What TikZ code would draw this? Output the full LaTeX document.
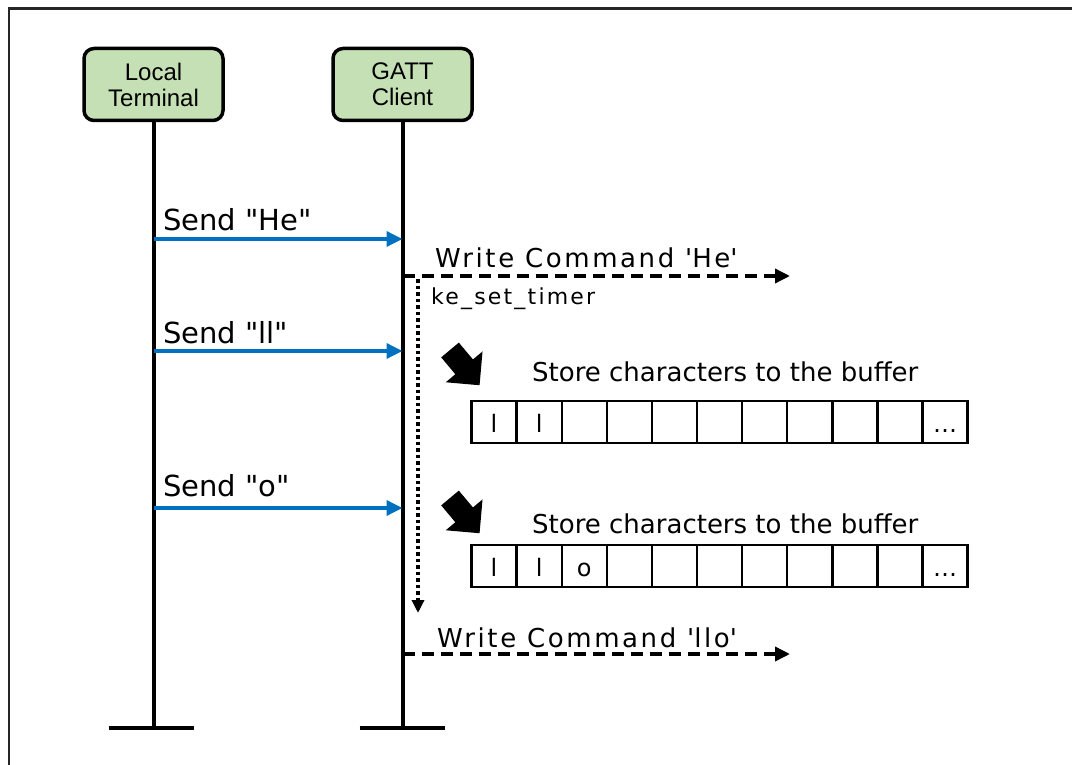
\documentclass[tikz,border=0pt]{standalone}
\usepackage{fontspec}
\usepackage{tikz}
\usetikzlibrary{arrows.meta}
\setmainfont{DejaVu Sans}
\newfontfamily\boxfont{Liberation Sans}
\newfontfamily\cmdfont[LetterSpace=10]{DejaVu Sans}
\definecolor{boxgreen}{RGB}{197,224,180}
\definecolor{msgblue}{RGB}{0,112,192}

\begin{document}
\begin{tikzpicture}[x=1pt, y=-1pt,
  actor/.style = {draw, fill=boxgreen, line width=3.5pt, rounded corners=10pt, minimum width=139pt, minimum height=72pt, align=center, inner sep=0pt, font=\boxfont\fontsize{24}{26}\selectfont},
  life/.style = {line width=4pt},
  msg/.style = {draw=msgblue, line width=3.5pt, -{Triangle[length=16pt,width=15pt]}},
  cmd/.style = {line width=3.5pt, dash pattern=on 12pt off 7pt, -{Triangle[length=15pt,width=14pt]}},
  timer/.style = {line width=3.5pt, dash pattern=on 3.5pt off 3pt, -{Triangle[length=13pt,width=12pt]}},
  cell/.style = {draw, line width=2.4pt, minimum width=45.1pt, minimum height=42pt, inner sep=0pt},
  lbl/.style = {anchor=base west, inner sep=0pt},
  sendfont/.style = {font=\fontsize{29}{33}\selectfont},
  charfont/.style = {anchor=base, inner sep=0pt, font=\fontsize{24}{26}\selectfont}]
\useasboundingbox (0,0) rectangle (1072,765);
\draw[line width=2.2pt, black!85] (9,8.5) rectangle (1100,800);

\node[actor] (lt) at (153.5,84.5) {Local\\Terminal};
\node[actor] (gc) at (402.5,84.5) {GATT\\Client};
\coordinate (lt-end) at (153.5,728);
\coordinate (gc-end) at (402.5,728);
\draw[life] (lt.south) -- (lt-end);
\draw[life] (gc.south) -- (gc-end);
\draw[life] ([xshift=-45pt]lt-end) -- ([xshift=40pt]lt-end);
\draw[life] ([xshift=-43pt]gc-end) -- ([xshift=42pt]gc-end);

\foreach \y [count=\i] in {239,351,508} {
  \coordinate (lt\i) at (153.5,\y);
  \coordinate (gc\i) at (402.5,\y);
  \draw[msg] (lt\i) -- (gc\i);
}
\node[lbl, sendfont] (send1) at (163,230) {Send \textquotedbl He\textquotedbl};
\node[lbl, sendfont] (send2) at (163,343) {Send \textquotedbl ll\textquotedbl};
\node[lbl, sendfont] (send3) at (163,496) {Send \textquotedbl o\textquotedbl};

\coordinate (gcw1) at (402.5,276);
\coordinate (w1) at (790,276);
\draw[cmd] (gcw1) -- (w1);
\node[lbl, font=\cmdfont\fontsize{26}{28}\selectfont] (cmd1) at (435,267) {Write Command \textquotesingle He\textquotesingle};
\coordinate (t0) at (418,279);
\coordinate (t1) at (418,613);
\draw[timer] (t0) -- (t1);
\node[lbl, font=\cmdfont\fontsize{22}{26}\selectfont] (tmr) at (431,304) {ke\_set\_timer};

\foreach \y in {350,498}
  \fill[shift={(450,\y)}, rotate=-50] (0,-11.5) -- (22,-11.5) -- (22,-24) -- (46,0) -- (22,24) -- (22,11.5) -- (0,11.5) -- cycle;
\node[lbl, font=\fontsize{26}{28}\selectfont] (store1) at (532,381) {Store characters to the buffer};
\node[lbl, font=\fontsize{26}{28}\selectfont] (store2) at (532,533) {Store characters to the buffer};

\foreach \i in {1,...,11} {
  \node[cell] (a\i) at ({471.5+45.1*(\i-0.5)},422) {};
  \node[cell] (b\i) at ({471.5+45.1*(\i-0.5)},566) {};
}
\node[charfont] at ([yshift=-10pt]a1.center) {l};
\node[charfont] at ([yshift=-10pt]a2.center) {l};
\node[charfont] at ([yshift=-10pt]a11.center) {\textellipsis};
\node[charfont] at ([yshift=-10pt]b1.center) {l};
\node[charfont] at ([yshift=-10pt]b2.center) {l};
\node[charfont] at ([yshift=-10pt]b3.center) {o};
\node[charfont] at ([yshift=-10pt]b11.center) {\textellipsis};

\coordinate (gcw2) at (402.5,654);
\coordinate (w2) at (790,654);
\draw[cmd] (gcw2) -- (w2);
\node[lbl, font=\cmdfont\fontsize{26}{28}\selectfont] (cmd2) at (437,647) {Write Command \textquotesingle llo\textquotesingle};
\end{tikzpicture}
\end{document}
